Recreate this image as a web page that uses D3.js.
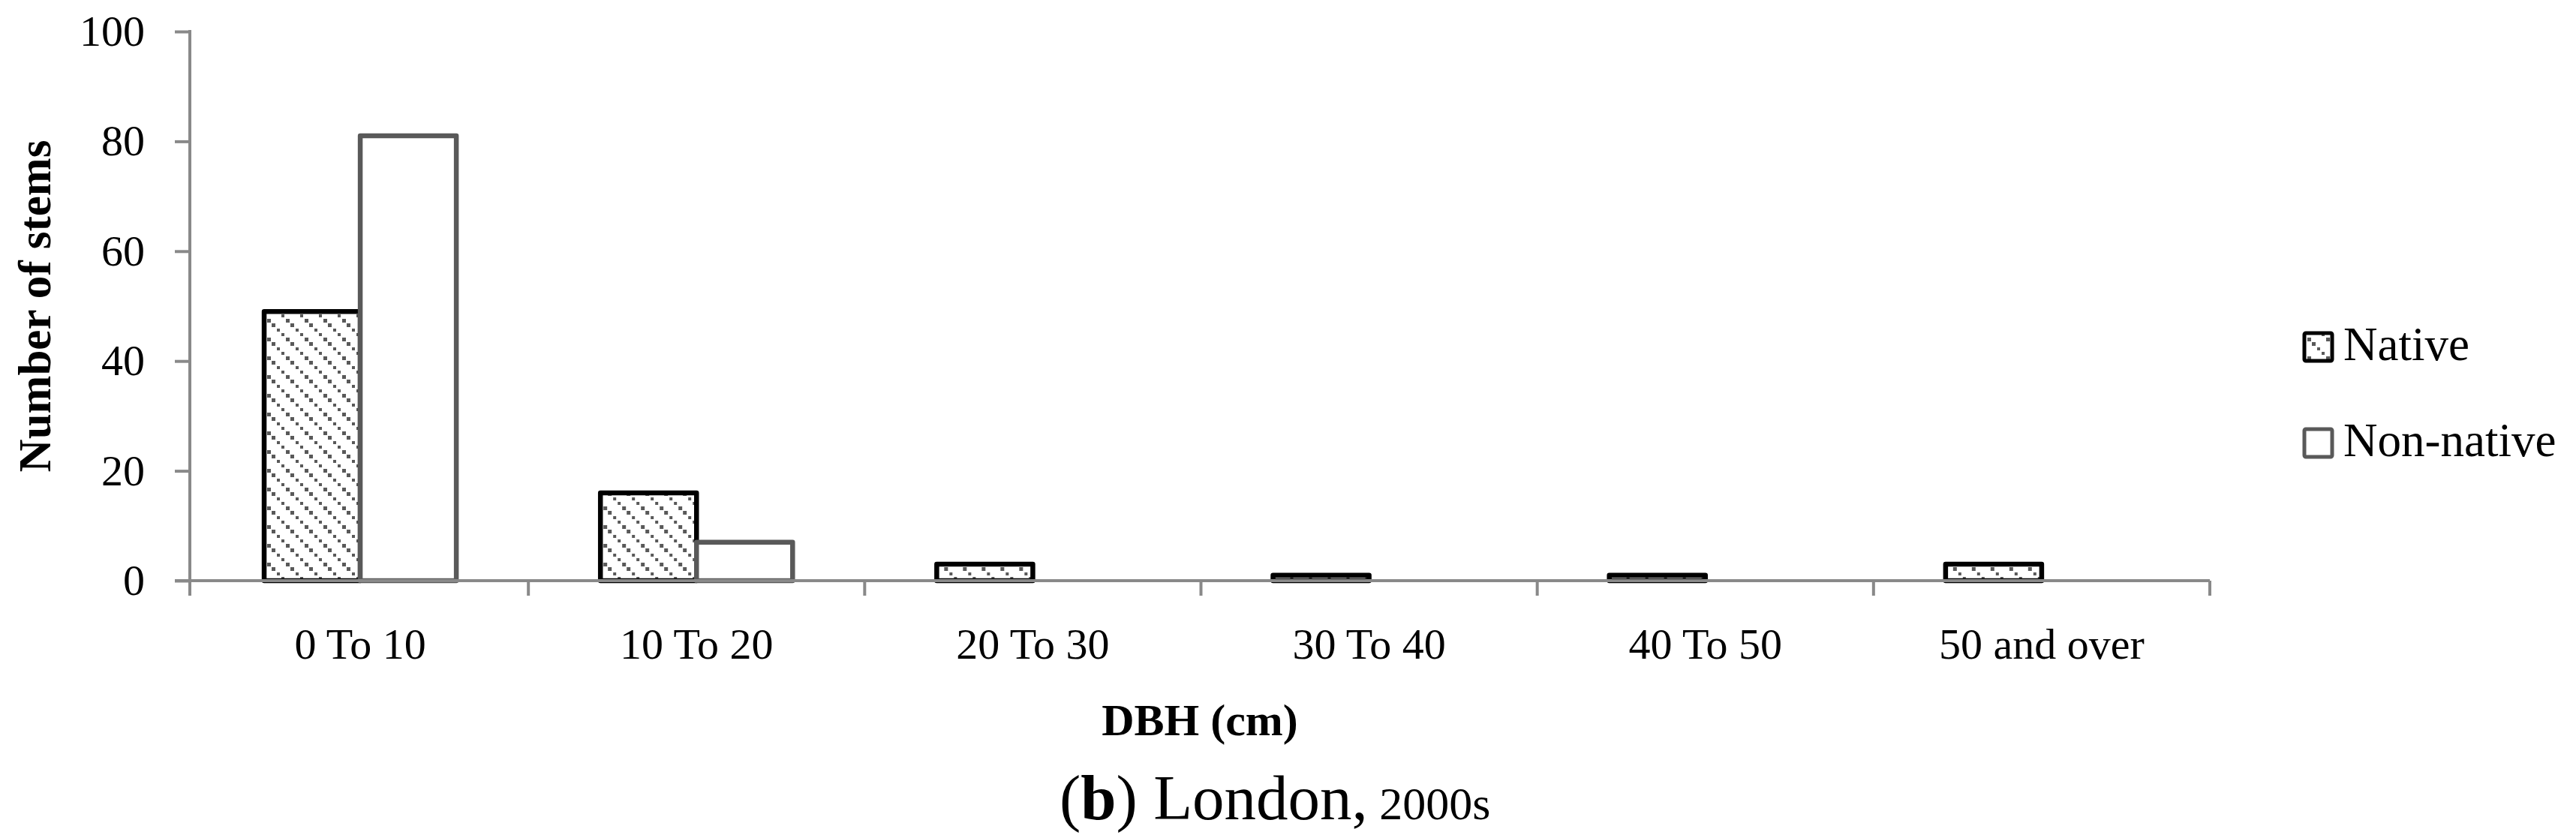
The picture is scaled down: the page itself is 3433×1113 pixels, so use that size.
<!DOCTYPE html>
<html>
<head>
<meta charset="utf-8">
<script src="https://cdn.jsdelivr.net/npm/d3@7"></script>
<style>
  html, body { margin: 0; padding: 0; background: #fff; }
  svg { display: block; }
  text { font-family: "Liberation Serif", "Times New Roman", serif; fill: #000; }
</style>
</head>
<body>
<script>
// ---- data ----
const categories = ["0 To 10", "10 To 20", "20 To 30", "30 To 40", "40 To 50", "50 and over"];
const seriesNames = ["Native", "Non-native"];
const nativeValues = [49, 16, 3, 1, 1, 3];
const nonNativeValues = [81, 7, 0, 0, 0, 0];
const yTicks = [0, 20, 40, 60, 80, 100];
const yTitle = "Number of stems";
const xTitle = "DBH (cm)";

// ---- layout ----
const W = 3433, H = 1113;
const plot = { left: 253, right: 2945, top: 42, bottom: 774 };
const axisColor = "#898989";
const darkGray = "#595959";

const svg = d3.select("body").append("svg").attr("width", W).attr("height", H);
svg.append("rect").attr("width", W).attr("height", H).attr("fill", "#fff");

// hatch pattern (dashed downward diagonal)
const defs = svg.append("defs");
const pat = defs.append("pattern").attr("id", "hatch")
  .attr("patternUnits", "userSpaceOnUse").attr("width", 25).attr("height", 25);
pat.append("rect").attr("width", 25).attr("height", 25).attr("fill", "#fff");
[0, 1, 2, 3].forEach(k => {
  pat.append("rect").attr("x", k * 6.25).attr("y", k * 6.25)
    .attr("width", 4.6).attr("height", 4.6).attr("fill", darkGray)
    .attr("shape-rendering", "crispEdges");
});

const x = d3.scaleBand().domain(categories).range([plot.left + 3, plot.right]).paddingInner(0).paddingOuter(0);
const xs = d3.scaleBand().domain(seriesNames).range([0, x.bandwidth()]).paddingInner(0).paddingOuter(0.75);
const y = d3.scaleLinear().domain([0, 100]).range([plot.bottom, plot.top]);

const rows = categories.map((c, i) => ({ cat: c, values: [
  { s: "Native", v: nativeValues[i] },
  { s: "Non-native", v: nonNativeValues[i] }
]}));

// bars
const styles = {
  "Native": { fill: "url(#hatch)", stroke: "#000" },
  "Non-native": { fill: "#fff", stroke: darkGray }
};
const groups = svg.append("g").selectAll("g").data(rows).join("g")
  .attr("transform", d => `translate(${x(d.cat)},0)`);
groups.selectAll("rect").data(d => d.values.filter(v => v.v > 0)).join("rect")
  .attr("x", d => xs(d.s))
  .attr("y", d => y(d.v))
  .attr("width", xs.bandwidth())
  .attr("height", d => y(0) - y(d.v))
  .attr("fill", d => styles[d.s].fill)
  .attr("stroke", d => styles[d.s].stroke)
  .attr("stroke-width", 6.5)
  .attr("stroke-linejoin", "round");

// y axis
const yAxis = d3.axisLeft(y).tickValues(yTicks).tickSize(20).tickPadding(40).tickFormat(d3.format("d"));
const gy = svg.append("g").attr("transform", `translate(${plot.left},0)`).call(yAxis);
gy.select(".domain").remove();
gy.selectAll(".tick line").attr("stroke", axisColor).attr("stroke-width", 4);
gy.selectAll(".tick text").attr("font-size", 58).attr("font-family", "Liberation Serif").attr("fill", "#000");
gy.append("line").attr("x1", 0).attr("x2", 0).attr("y1", plot.top - 2).attr("y2", plot.bottom + 20)
  .attr("stroke", axisColor).attr("stroke-width", 4);

// x axis
const xAxis = d3.axisBottom(x).tickSize(0).tickPadding(0);
const gx = svg.append("g").attr("transform", `translate(0,${plot.bottom})`).call(xAxis);
gx.select(".domain").remove();
gx.selectAll(".tick text").attr("font-size", 58).attr("font-family", "Liberation Serif")
  .attr("fill", "#000").attr("y", 104).attr("dy", 0);
gx.append("line").attr("x1", plot.left - 20).attr("x2", plot.right).attr("y1", 0).attr("y2", 0)
  .attr("stroke", axisColor).attr("stroke-width", 4);
const boundaries = categories.map(c => x(c)).slice(1).concat([x.range()[1]]);
gx.selectAll("line.bound").data(boundaries).join("line").attr("class", "bound")
  .attr("x1", d => d).attr("x2", d => d).attr("y1", 0).attr("y2", 20)
  .attr("stroke", axisColor).attr("stroke-width", 4);

// axis titles
svg.append("text").attr("transform", `translate(67,${(plot.top + plot.bottom) / 2}) rotate(-90)`)
  .attr("text-anchor", "middle").attr("font-size", 61).attr("font-weight", "bold").text(yTitle);
svg.append("text").attr("x", (plot.left + plot.right) / 2).attr("y", 980)
  .attr("text-anchor", "middle").attr("font-size", 60).attr("font-weight", "bold").text(xTitle);

// legend
const legend = svg.append("g");
const legendItems = [
  { s: "Native", y: 442 },
  { s: "Non-native", y: 570 }
];
legendItems.forEach(it => {
  legend.append("rect").attr("x", 3071).attr("y", it.y + 2).attr("width", 37).attr("height", 37)
    .attr("rx", 2).attr("fill", styles[it.s].fill).attr("stroke", styles[it.s].stroke).attr("stroke-width", 5);
  legend.append("text").attr("x", 3123).attr("y", it.y + 38).attr("font-size", 63).text(it.s);
});

// caption
const cap = svg.append("text").attr("x", 1412).attr("y", 1092).attr("font-size", 85);
cap.append("tspan").text("(");
cap.append("tspan").attr("font-weight", "bold").text("b");
cap.append("tspan").text(") London,");
cap.append("tspan").attr("font-size", 62).text(" 2000s");
</script>
</body>
</html>
